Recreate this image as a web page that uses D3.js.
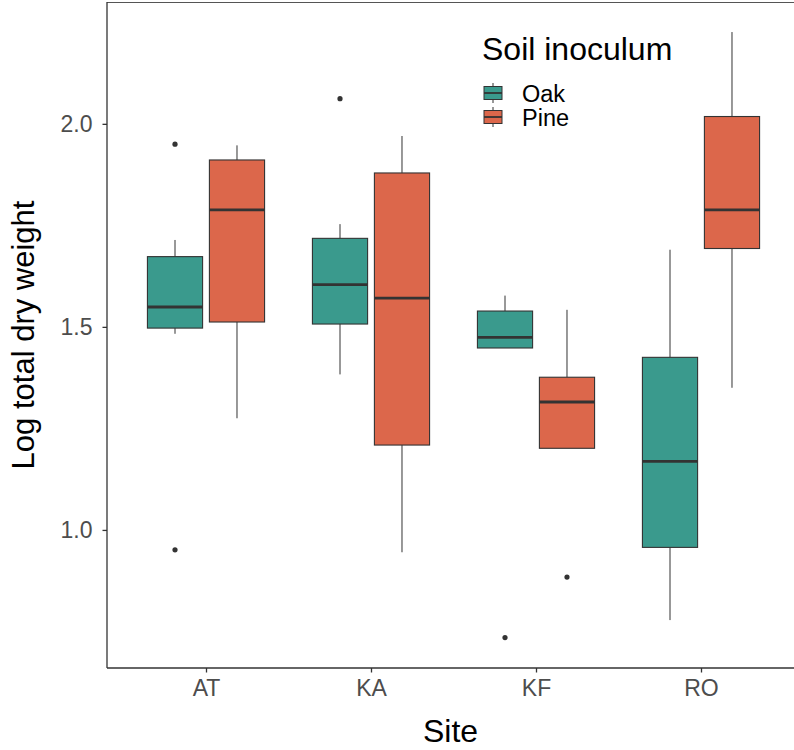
<!DOCTYPE html>
<html>
<head>
<meta charset="utf-8">
<script src="https://cdn.jsdelivr.net/npm/d3@7"></script>
<style>
  body { margin: 0; background: #fff; }
  text { font-family: "Liberation Sans", Arial, sans-serif; }
</style>
</head>
<body>
<div id="vis"></div>
<script>
var WIDTH = 794
var HEIGHT = 750

// data
var sites = ['AT', 'KA', 'KF', 'RO'];
var groups = ['Oak', 'Pine'];
var colors = ['#3a9a8d', '#dc674b'];

// per series, one value per site
var oakLow = [1.483, 1.383, 1.448, 0.778];
var oakQ1 = [1.497, 1.507, 1.448, 0.957];
var oakMed = [1.549, 1.604, 1.474, 1.169];
var oakQ3 = [1.673, 1.718, 1.539, 1.425];
var oakHigh = [1.714, 1.753, 1.577, 1.690];
var oakOut = [[1.950, 0.951], [2.062], [0.735], []];

var pineLow = [1.275, 0.945, 1.201, 1.350];
var pineQ1 = [1.512, 1.209, 1.201, 1.693];
var pineMed = [1.788, 1.571, 1.315, 1.788];
var pineQ3 = [1.911, 1.879, 1.376, 2.018];
var pineHigh = [1.947, 1.970, 1.542, 2.226];
var pineOut = [[], [], [0.884], []];

var yTicks = [1.0, 1.5, 2.0];

var boxes = [];
sites.forEach((s, i) => {
    boxes.push({site: s, group: 'Oak', low: oakLow[i], q1: oakQ1[i], med: oakMed[i], q3: oakQ3[i], high: oakHigh[i], out: oakOut[i]});
    boxes.push({site: s, group: 'Pine', low: pineLow[i], q1: pineQ1[i], med: pineMed[i], q3: pineQ3[i], high: pineHigh[i], out: pineOut[i]});
});

var pLeft = 107, pTop = 2, pRight = 800, pBottom = 668;

const svg = d3.select('#vis').append('svg')
    .attr('width', WIDTH)
    .attr('height', HEIGHT);

var x = d3.scalePoint().domain(sites).range([pLeft, pRight]).padding(0.6);
var step = x.step();
var xg = d3.scaleBand().domain(groups).range([-0.355 * step, 0.355 * step]).paddingInner(0.11);
var y = d3.scaleLinear().domain([0.66, 2.30]).range([pBottom, pTop]);
var color = d3.scaleOrdinal().domain(groups).range(colors);

// panel border (top) - thin grey
svg.append('line')
    .attr('x1', pLeft).attr('x2', WIDTH + 5)
    .attr('y1', pTop + 0.5).attr('y2', pTop + 0.5)
    .attr('stroke', '#555').attr('stroke-width', 1);

var g = svg.append('g');

var bx = g.selectAll('g.box')
    .data(boxes)
    .enter()
    .append('g')
    .attr('class', 'box')
    .attr('transform', d => 'translate(' + (x(d.site) + xg(d.group)) + ',0)');

var bw = xg.bandwidth();

// whiskers
bx.append('line')
    .attr('x1', bw / 2).attr('x2', bw / 2)
    .attr('y1', d => y(d.high)).attr('y2', d => y(d.q3))
    .attr('stroke', '#333').attr('stroke-width', 1);
bx.append('line')
    .attr('x1', bw / 2).attr('x2', bw / 2)
    .attr('y1', d => y(d.q1)).attr('y2', d => y(d.low))
    .attr('stroke', '#333').attr('stroke-width', 1);

bx.append('rect')
    .attr('x', 0)
    .attr('width', bw)
    .attr('y', d => y(d.q3))
    .attr('height', d => y(d.q1) - y(d.q3))
    .attr('fill', d => color(d.group))
    .attr('stroke', '#333')
    .attr('stroke-width', 1.1);

bx.append('line')
    .attr('x1', 0).attr('x2', bw)
    .attr('y1', d => y(d.med)).attr('y2', d => y(d.med))
    .attr('stroke', '#333').attr('stroke-width', 2.8);

bx.selectAll('circle')
    .data(d => d.out)
    .enter()
    .append('circle')
    .attr('cx', bw / 2)
    .attr('cy', v => y(v))
    .attr('r', 2.6)
    .attr('fill', '#333');

// axes
var yAxis = svg.append('g')
    .attr('transform', 'translate(' + pLeft + ',0)')
    .call(d3.axisLeft(y).tickValues(yTicks).tickFormat(d3.format('.1f')).tickSize(4.5).tickPadding(10));
var xAxis = svg.append('g')
    .attr('transform', 'translate(0,' + pBottom + ')')
    .call(d3.axisBottom(x).tickSize(4.5).tickPadding(7));

[yAxis, xAxis].forEach(ax => {
    ax.select('.domain').attr('stroke', '#333').attr('stroke-width', 1.3);
    ax.selectAll('.tick line').attr('stroke', '#333').attr('stroke-width', 1.3);
    ax.selectAll('.tick text')
        .attr('fill', '#4d4d4d')
        .style('font-size', '23px')
        .style('font-family', '"Liberation Sans", Arial, sans-serif');
});
yAxis.select('.domain').attr('d', 'M0,' + pTop + 'V' + pBottom);
xAxis.select('.domain').attr('d', 'M' + pLeft + ',0H' + (WIDTH + 5));

// axis titles
svg.append('text')
    .attr('x', (pLeft + WIDTH) / 2)
    .attr('y', 742)
    .attr('text-anchor', 'middle')
    .style('font-size', '32px')
    .text('Site');

svg.append('text')
    .attr('transform', 'translate(34,' + ((pTop + pBottom) / 2) + ') rotate(-90)')
    .attr('text-anchor', 'middle')
    .style('font-size', '31px')
    .text('Log total dry weight');

// legend
var leg = svg.append('g').attr('transform', 'translate(482,0)');
leg.append('text')
    .attr('x', 0).attr('y', 60)
    .style('font-size', '32px')
    .text('Soil inoculum');

var item = leg.selectAll('g.item')
    .data(groups)
    .enter()
    .append('g')
    .attr('class', 'item')
    .attr('transform', (d, i) => 'translate(0,' + (93 + i * 24) + ')');

item.append('line')
    .attr('x1', 11).attr('x2', 11)
    .attr('y1', -10).attr('y2', 10)
    .attr('stroke', '#333').attr('stroke-width', 1);
item.append('rect')
    .attr('x', 2).attr('y', -6.5)
    .attr('width', 18).attr('height', 13)
    .attr('fill', d => color(d))
    .attr('stroke', '#333').attr('stroke-width', 1);
item.append('line')
    .attr('x1', 2).attr('x2', 20)
    .attr('y1', 0).attr('y2', 0)
    .attr('stroke', '#333').attr('stroke-width', 1.8);
item.append('text')
    .attr('x', 40).attr('y', 8.5)
    .style('font-size', '23.5px')
    .text(d => d);
</script>
</body>
</html>
